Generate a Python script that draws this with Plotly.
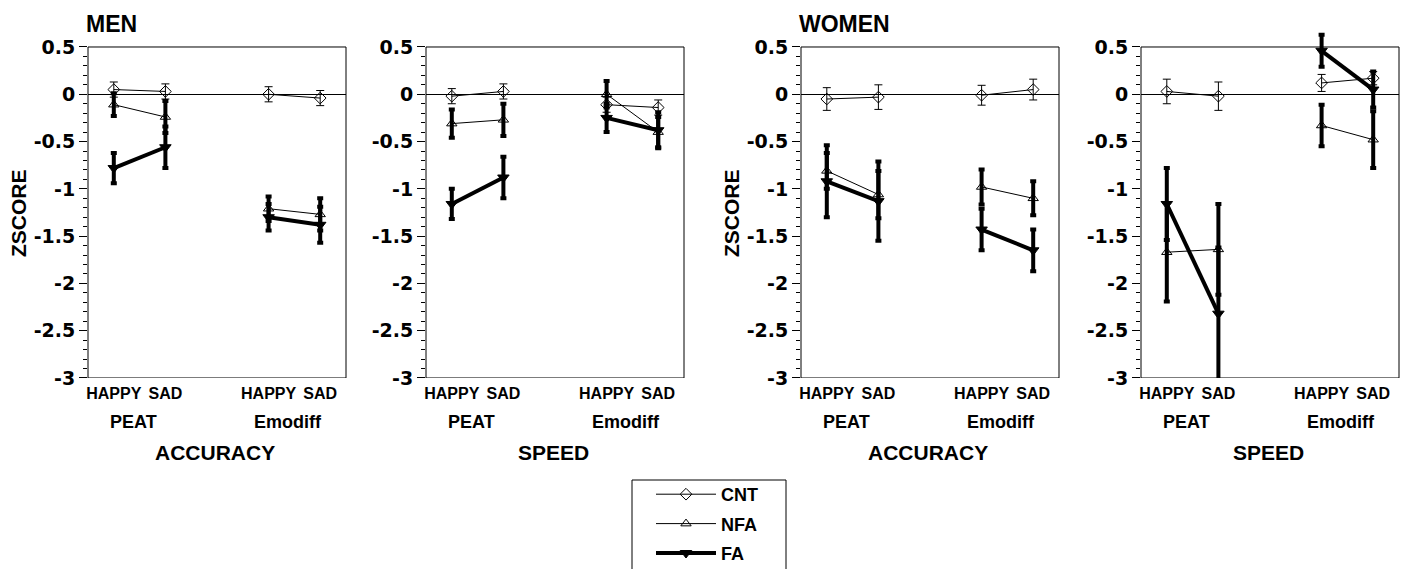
import plotly.graph_objects as go

# ---------------- data ----------------
conditions = ["HAPPY", "SAD", "HAPPY", "SAD"]
cond_x = [0.5, 1.5, 3.5, 4.5]
tasks = ["PEAT", "Emodiff"]
task_x = [0.88, 3.88]
measures = ["ACCURACY", "SPEED", "ACCURACY", "SPEED"]
sexes = ["MEN", "WOMEN"]
y_ticks = [0.5, 0, -0.5, -1, -1.5, -2, -2.5, -3]
y_ticklabels = ["0.5", "0", "-0.5", "-1", "-1.5", "-2", "-2.5", "-3"]
series = ["CNT", "NFA", "FA"]

# panels: MEN accuracy, MEN speed, WOMEN accuracy, WOMEN speed
# values per panel: PEAT HAPPY, PEAT SAD, Emodiff HAPPY, Emodiff SAD
cnt_mean = [[0.05, 0.03, 0.00, -0.04],
            [-0.02, 0.03, -0.11, -0.14],
            [-0.05, -0.03, -0.01, 0.05],
            [0.03, -0.02, 0.12, 0.17]]
cnt_err = [[0.08, 0.08, 0.08, 0.08],
           [0.08, 0.08, 0.08, 0.08],
           [0.12, 0.13, 0.105, 0.11],
           [0.13, 0.15, 0.09, 0.07]]
nfa_mean = [[-0.11, -0.24, -1.21, -1.27],
            [-0.31, -0.27, 0.00, -0.40],
            [-0.81, -1.06, -0.98, -1.10],
            [-1.67, -1.64, -0.33, -0.48]]
nfa_err = [[0.12, 0.17, 0.13, 0.17],
           [0.15, 0.17, 0.14, 0.16],
           [0.19, 0.25, 0.185, 0.18],
           [0.52, 0.48, 0.22, 0.30]]
fa_mean = [[-0.78, -0.56, -1.30, -1.38],
           [-1.16, -0.88, -0.25, -0.38],
           [-0.92, -1.13, -1.43, -1.65],
           [-1.16, -2.32, 0.46, 0.05]]
fa_err = [[0.16, 0.22, 0.14, 0.19],
          [0.16, 0.22, 0.15, 0.19],
          [0.38, 0.42, 0.22, 0.22],
          [0.38, 0.70, 0.17, 0.19]]

# ---------------- layout geometry (pixels) ----------------
W, H = 1409, 569
panel_left = [88, 426, 801, 1141]
panel_width = 258
frame_top, frame_bottom = 47, 378          # pixel rows of y=0.5 and y=-3
frame_lo, frame_hi = -3.0, 0.5
y_range = [-3.0, 0.68]                       # headroom so error bars above 0.5 show
FONT = "Liberation Sans, Arial, Helvetica, sans-serif"
TICKFONT = "DejaVu Sans, Verdana, sans-serif"

def px_x(p):
    return p / W

def px_y(p):
    return 1 - p / H

k = (frame_bottom - frame_top) / (frame_hi - frame_lo)   # px per unit
dom_top_px = frame_top - (y_range[1] - frame_hi) * k
dom_bot_px = frame_bottom + (frame_lo - y_range[0]) * k
ydom = [px_y(dom_bot_px), px_y(dom_top_px)]
zero_pos = px_y(frame_top + (frame_hi - 0) * k)
minor_vals = [round(frame_lo + 0.1 * i, 1) for i in range(1, 35) if i % 5 != 0]

styles = {
    "CNT": dict(symbol="diamond-open", size=9, lw=1, ew=1, cap=4, mean=cnt_mean, err=cnt_err),
    "NFA": dict(symbol="triangle-up-open", size=9, lw=1, ew=4, cap=3, mean=nfa_mean, err=nfa_err),
    "FA": dict(symbol="triangle-down", size=10, lw=4, ew=4, cap=3, mean=fa_mean, err=fa_err),
}

def with_gap(vals, fill=None):
    return [vals[0], vals[1], fill, vals[2], vals[3]]

fig = go.Figure()
for p in range(4):
    xa = "x" if p == 0 else f"x{p+1}"
    ya = "y" if p == 0 else f"y{p+1}"
    for name in series:
        s = styles[name]
        fig.add_trace(go.Scatter(
            x=with_gap(cond_x), y=with_gap(s["mean"][p]),
            xaxis=xa, yaxis=ya, name=name, legendgroup=name,
            showlegend=(p == 0), mode="lines+markers", connectgaps=False,
            cliponaxis=False,
            line=dict(color="black", width=s["lw"]),
            marker=dict(symbol=s["symbol"], size=s["size"], color="black",
                        line=dict(color="black", width=1)),
            error_y=dict(type="data", array=with_gap(s["err"][p], 0), visible=True,
                         color="black", thickness=s["ew"], width=s["cap"]),
        ))

layout = dict(
    width=W, height=H, autosize=False,
    margin=dict(l=0, r=0, t=0, b=0, autoexpand=False),
    paper_bgcolor="white", plot_bgcolor="white",
    font=dict(family=FONT, color="black", size=16, weight="bold"),
    showlegend=True,
    legend=dict(x=px_x(651), y=px_y(476), xanchor="left", yanchor="top",
                borderwidth=0, bgcolor="rgba(0,0,0,0)",
                font=dict(size=18, family=FONT, weight="bold", color="black"),
                itemwidth=60, tracegroupgap=3),
)
annotations = []
shapes = []
for p in range(4):
    sfx = "" if p == 0 else str(p + 1)
    dom = [px_x(panel_left[p]), px_x(panel_left[p] + panel_width)]
    layout["xaxis" + sfx] = dict(
        domain=dom, range=[0, 5], anchor="y" + sfx,
        tickvals=cond_x, ticktext=conditions, ticks="", ticklen=0,
        ticklabelstandoff=4,
        tickfont=dict(size=16, family=FONT, weight="bold", color="black"),
        showline=False, showgrid=False, zeroline=False, fixedrange=True,
    )
    layout["yaxis" + sfx] = dict(
        domain=ydom, range=y_range, anchor="x" + sfx,
        tickvals=y_ticks, ticktext=y_ticklabels, ticks="outside", ticklen=8,
        tickcolor="black", tickfont=dict(size=19, family=TICKFONT, weight="bold", color="black"),
        minor=dict(tickvals=minor_vals, ticks="outside", ticklen=4, tickcolor="black", showgrid=False),
        showline=False, showgrid=False,
        zeroline=True, zerolinecolor="black", zerolinewidth=1,
        fixedrange=True,
    )
    # tick marks hanging from the zero line
    layout[f"xaxis{p+5}"] = dict(
        overlaying="x" if p == 0 else f"x{p+1}", anchor="free", position=zero_pos,
        range=[0, 5], tickvals=[1, 2, 3, 4], ticks="outside", ticklen=7,
        tickcolor="black", showticklabels=False, showline=False, showgrid=False,
        zeroline=False, side="bottom", fixedrange=True,
    )
    xref = "x" if p == 0 else f"x{p+1}"
    yref = "y" if p == 0 else f"y{p+1}"
    # plot frame (box) from -3 to 0.5
    shapes.append(dict(type="rect", xref=xref + " domain", yref=yref, x0=0, x1=1,
                       y0=frame_lo, y1=frame_hi, line=dict(color="black", width=1),
                       layer="above"))
    for t, tx in zip(tasks, task_x):
        annotations.append(dict(x=tx, y=px_y(422), xref=xref, yref="paper", text=t,
                                showarrow=False, xanchor="center", yanchor="middle",
                                font=dict(size=18, family=FONT, weight="bold")))
    annotations.append(dict(x=2.47, y=px_y(452), xref=xref, yref="paper", text=measures[p],
                            showarrow=False, xanchor="center", yanchor="middle",
                            font=dict(size=21, family=FONT, weight="bold")))

for i, s in enumerate(sexes):
    left = panel_left[2 * i]
    annotations.append(dict(x=px_x(left - 4), y=px_y(24), xref="paper", yref="paper", text=s,
                            showarrow=False, xanchor="left", yanchor="middle",
                            font=dict(size=23, family=FONT, weight="bold")))
    annotations.append(dict(x=px_x(left - 70), y=px_y(213), xref="paper", yref="paper",
                            text="ZSCORE", textangle=-90, showarrow=False,
                            xanchor="center", yanchor="middle",
                            font=dict(size=21, family=FONT, weight="bold")))

# legend frame (runs off the bottom edge as in the original)
shapes.append(dict(type="rect", xref="paper", yref="paper",
                   x0=px_x(632), x1=px_x(786), y0=px_y(580), y1=px_y(480),
                   line=dict(color="black", width=1), layer="below"))
layout["annotations"] = annotations
layout["shapes"] = shapes
fig.update_layout(**layout)
fig.write_html("out.html")
